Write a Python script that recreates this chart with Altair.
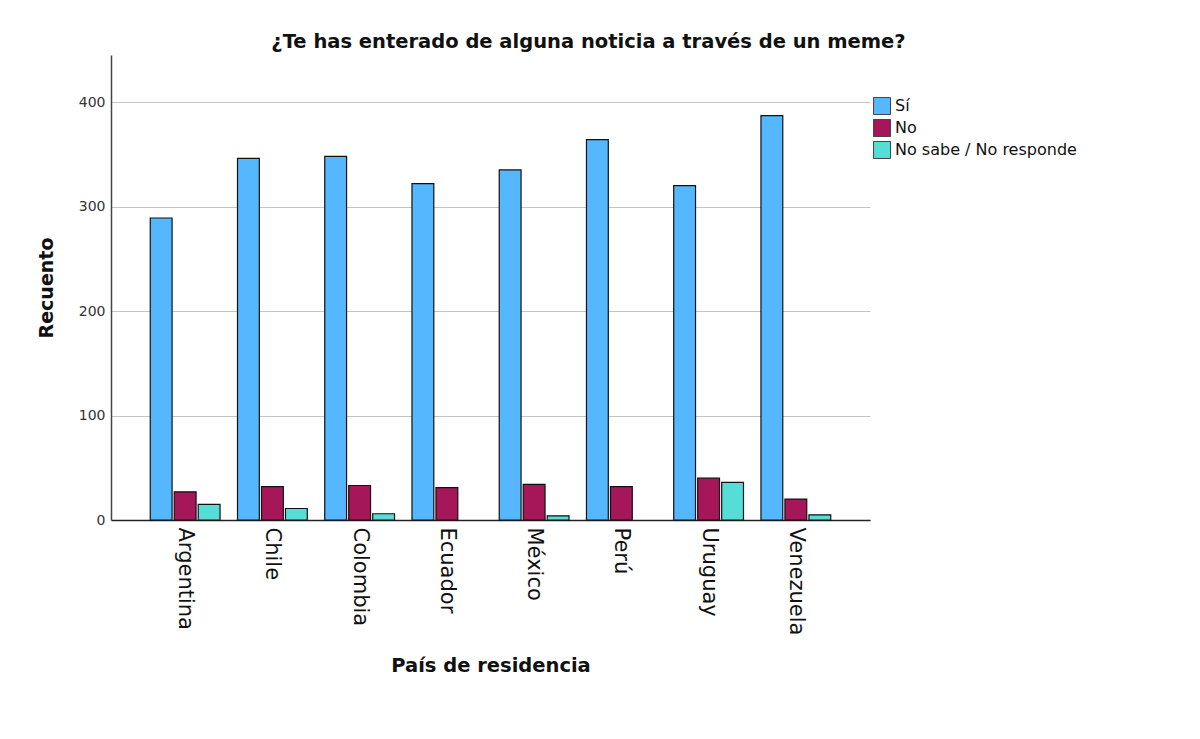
import altair as alt
import pandas as pd

countries = ["Argentina", "Chile", "Colombia", "Ecuador", "México", "Perú", "Uruguay", "Venezuela"]
answers = ["Sí", "No", "No sabe / No responde"]
si = [289, 346, 348, 322, 335, 364, 320, 387]
no = [27, 32, 33, 31, 34, 32, 40, 20]
ns = [15, 11, 6, 0, 4, 0, 36, 5]
colors = ["#55B8FF", "#A6175A", "#55DDD6"]

rows = []
for i, c in enumerate(countries):
    for a, vals in zip(answers, [si, no, ns]):
        rows.append({"country": c, "answer": a, "count": vals[i]})
df = pd.DataFrame(rows)

font = "DejaVu Sans"

bars = alt.Chart(df).transform_filter("datum.count > 0").mark_bar(
    stroke="#111111", strokeWidth=1.2
).encode(
    x=alt.X("country:N", sort=countries,
            scale=alt.Scale(domain=countries, paddingInner=0.2, paddingOuter=0.45),
            axis=alt.Axis(title="País de residencia", labelAngle=90, labelFontSize=21,
                          labelFont=font, labelColor="#111111", labelPadding=7,
                          ticks=False, domainColor="#222222", domainWidth=1.5,
                          titleFont=font, titleFontSize=19.5, titleFontWeight="bold",
                          titleColor="#111111", titlePadding=22)),
    xOffset=alt.XOffset("answer:N", sort=answers,
                        scale=alt.Scale(domain=answers, paddingInner=0.09)),
    y=alt.Y("count:Q", scale=alt.Scale(domain=[0, 445], nice=False),
            axis=alt.Axis(title="Recuento", values=[0, 100, 200, 300, 400], labelFontSize=14,
                          labelFont=font, labelColor="#333333", ticks=False, labelPadding=6,
                          domainColor="#444444", domainWidth=1.5,
                          gridColor="#c4c4c4", gridWidth=1.2,
                          titleFont=font, titleFontSize=19, titleFontWeight="bold",
                          titleColor="#111111", titlePadding=22)),
    color=alt.Color("answer:N", sort=answers,
                    scale=alt.Scale(domain=answers, range=colors),
                    legend=alt.Legend(title=None, orient="none", legendX=762, legendY=42,
                                      symbolType="square", symbolSize=289,
                                      symbolStrokeColor="#444444", symbolStrokeWidth=1,
                                      labelFont=font, labelFontSize=16, labelColor="#111111",
                                      labelLimit=0, rowPadding=0, labelOffset=4)),
)

chart = bars.properties(
    width=759, height=465,
    title=alt.TitleParams("¿Te has enterado de alguna noticia a través de un meme?",
                          font=font, fontSize=19.5, fontWeight="bold", color="#111111",
                          anchor="middle", dx=98, offset=3),
    padding={"left": 103, "top": 47, "right": 250, "bottom": 200},
    autosize=alt.AutoSizeParams(type="none"),
).configure_view(stroke=None).configure_axis(labelFlush=False)

chart.save("out.html", embed_options={"renderer": "svg", "actions": False})
